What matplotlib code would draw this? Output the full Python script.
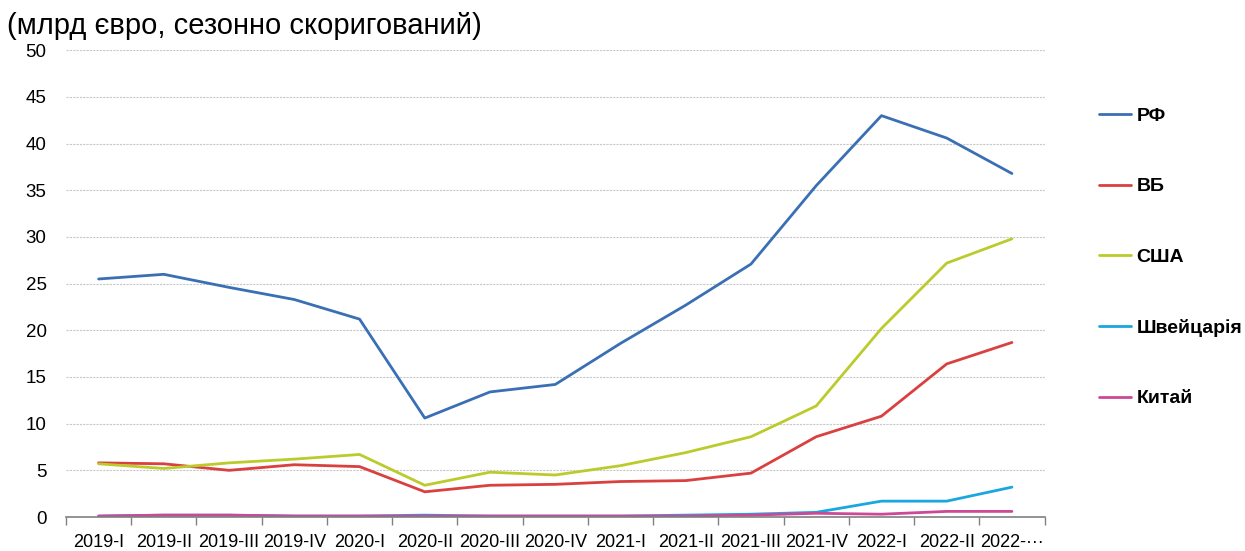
import numpy as np
import matplotlib.pyplot as plt

plt.rcParams['font.family'] = ['Liberation Sans', 'DejaVu Sans']

quarters = ["2019-I", "2019-II", "2019-III", "2019-IV", "2020-I", "2020-II", "2020-III",
            "2020-IV", "2021-I", "2021-II", "2021-III", "2021-IV", "2022-I", "2022-II", "2022-III"]
tick_labels = quarters[:-1] + ["2022-\u00b7\u00b7\u00b7"]

rf = [25.5, 26.0, 24.6, 23.3, 21.2, 10.6, 13.4, 14.2, 18.6, 22.7, 27.1, 35.5, 43.0, 40.6, 36.8]
vb = [5.8, 5.7, 5.0, 5.6, 5.4, 2.7, 3.4, 3.5, 3.8, 3.9, 4.7, 8.6, 10.8, 16.4, 18.7]
usa = [5.7, 5.2, 5.8, 6.2, 6.7, 3.4, 4.8, 4.5, 5.5, 6.9, 8.6, 11.9, 20.2, 27.2, 29.8]
swiss = [0.1, 0.2, 0.2, 0.1, 0.1, 0.2, 0.1, 0.1, 0.1, 0.2, 0.3, 0.5, 1.7, 1.7, 3.2]
china = [0.1, 0.2, 0.2, 0.1, 0.1, 0.1, 0.1, 0.1, 0.1, 0.1, 0.2, 0.4, 0.3, 0.6, 0.6]

series = [("РФ", rf, "#3a6fb4"), ("ВБ", vb, "#d9403f"), ("США", usa, "#bccb2c"),
          ("Швейцарія", swiss, "#1aa7e1"), ("Китай", china, "#cc4996")]

fig = plt.figure(figsize=(12.45, 5.51), dpi=100)
ax = fig.add_axes([0.053, 0.0617, 0.786, 0.847])

x = np.arange(len(quarters))
for name, vals, col in series:
    ax.plot(x, vals, color=col, lw=2.0, label=name, solid_capstyle='round')

ax.set_xlim(-0.5, len(quarters) - 0.5)
ax.set_ylim(0, 50)
ax.set_yticks(range(0, 51, 5))
ax.yaxis.grid(True, ls=(0, (2, 1)), color="#c8c8c8", lw=0.8)
ax.set_axisbelow(True)
ax.tick_params(axis='y', length=0, labelsize=13.5, pad=14)

ax.set_xticks(x)
ax.set_xticklabels(tick_labels, fontsize=13)
ax.set_xticks(np.arange(-0.5, len(quarters), 1), minor=True)
ax.tick_params(axis='x', which='major', length=0, pad=12)
ax.tick_params(axis='x', which='minor', length=6, color="#808080", width=1)

for s in ["top", "right", "left"]:
    ax.spines[s].set_visible(False)
ax.spines["bottom"].set_color("#808080")
ax.spines["bottom"].set_linewidth(1.2)

fig.text(0.006, 0.952, "(млрд євро, сезонно скоригований)", fontsize=21, va='center', ha='left')

fig.legend(loc='upper left', bbox_to_anchor=(0.869, 0.837), frameon=False,
           prop={'weight': 'bold', 'size': 14}, handlelength=1.65, handletextpad=0.25,
           labelspacing=2.72)

fig.savefig("out.png", dpi=100)
